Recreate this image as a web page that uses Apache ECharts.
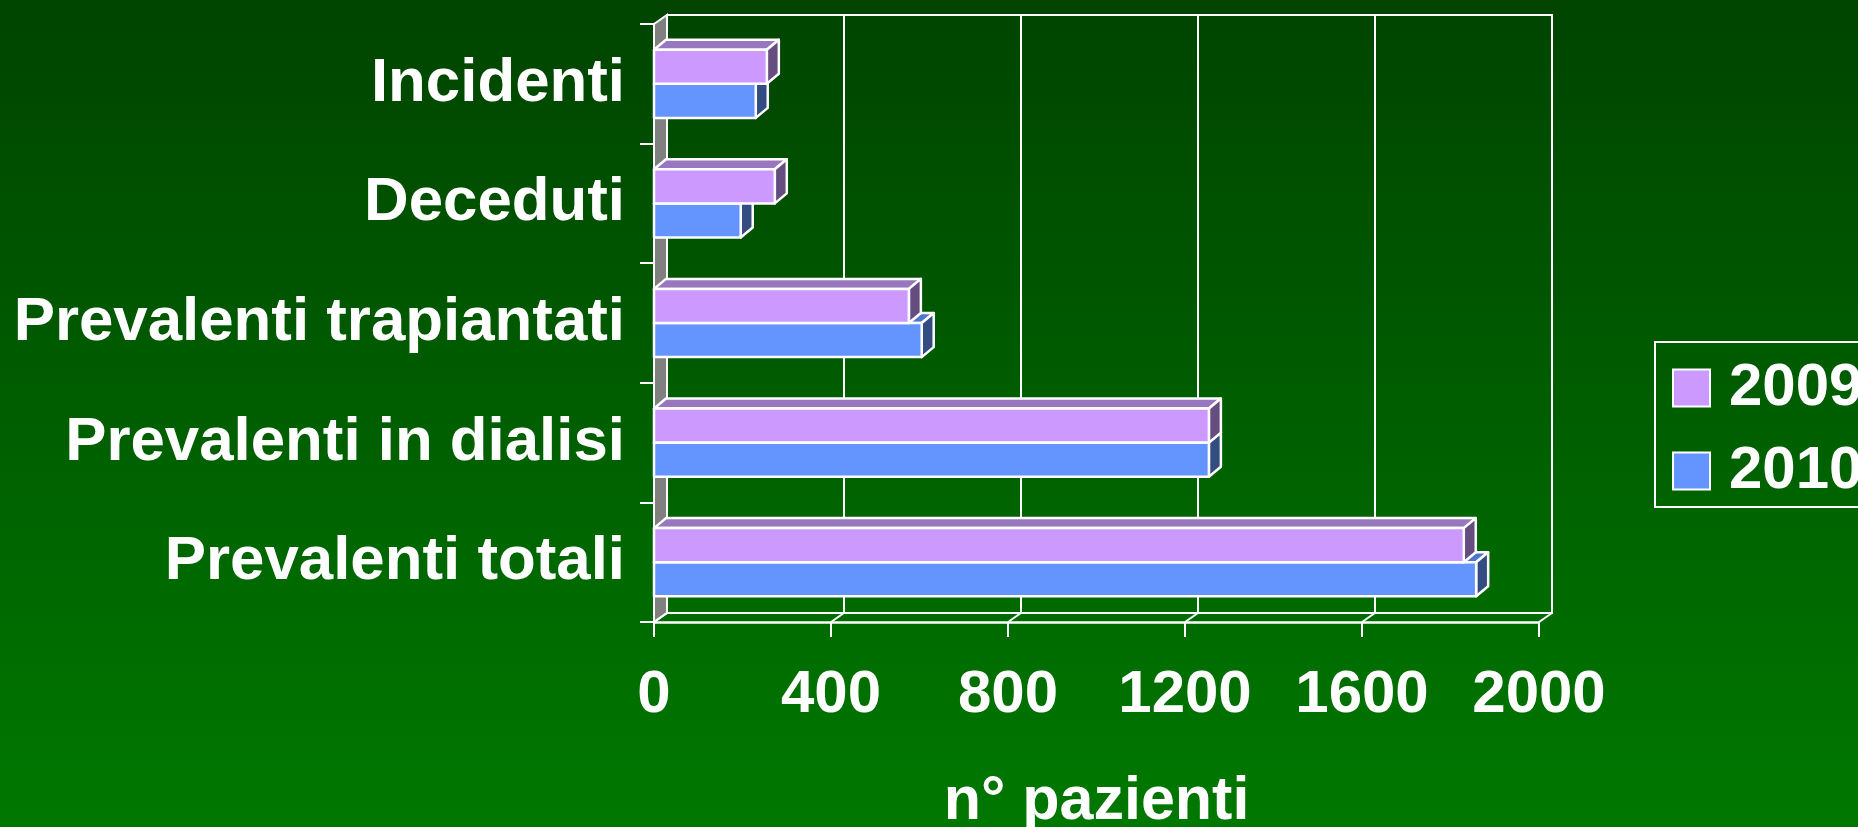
<!DOCTYPE html>
<html lang="it">
<head>
    <meta charset="utf-8">
    <title>Pazienti 2009 - 2010</title>
    <script src="https://cdn.jsdelivr.net/npm/echarts@6/dist/echarts.min.js"></script>
    <style>
        html, body { margin: 0; padding: 0; }
        #chart { width: 1858px; height: 827px; }
    </style>
</head>
<body>
    <div id="chart"></div>
    <script>
        // dati
        const categories = ['Incidenti', 'Deceduti', 'Prevalenti trapiantati', 'Prevalenti in dialisi', 'Prevalenti totali'];
        const years = ['2009', '2010'];
        const values2009 = [255, 273, 576, 1254, 1830];
        const values2010 = [230, 196, 605, 1254, 1858];
        const xTicks = [0, 400, 800, 1200, 1600, 2000];

        // layout (pseudo 3D)
        const FRONT = { left: 654, top: 24, width: 885, height: 598 };
        const WALL = { x: 13, y: 9 };
        const BAR = { x: 12, y: 10, ratio: 0.285 };
        const FONT = '"Liberation Sans", Arial, sans-serif';

        const colors = {
            '2009': { front: '#CC99FF', top: '#9977BF', side: '#664D80' },
            '2010': { front: '#6495FF', top: '#4D77CC', side: '#334D80' }
        };

        function barRenderer(c, upper) {
            return function (params, api) {
                const cat = api.value(1);
                const start = api.coord([0, cat]);
                const end = api.coord([api.value(0), cat]);
                const th = api.size([0, 1])[1] * BAR.ratio;
                const y0 = upper ? start[1] - th : start[1];
                const x0 = start[0], x1 = end[0];
                const dx = BAR.x, dy = BAR.y;
                const line = { stroke: '#fff', lineWidth: 2.5, lineJoin: 'round' };
                return {
                    type: 'group',
                    children: [
                        { type: 'polygon', shape: { points: [[x0, y0], [x0 + dx, y0 - dy], [x1 + dx, y0 - dy], [x1, y0]] },
                          style: Object.assign({ fill: c.top }, line) },
                        { type: 'polygon', shape: { points: [[x1, y0], [x1 + dx, y0 - dy], [x1 + dx, y0 + th - dy], [x1, y0 + th]] },
                          style: Object.assign({ fill: c.side }, line) },
                        { type: 'rect', shape: { x: x0, y: y0, width: x1 - x0, height: th },
                          style: Object.assign({ fill: c.front }, line) }
                    ]
                };
            };
        }

        const chart = echarts.init(document.getElementById('chart'));
        const option = {
            backgroundColor: new echarts.graphic.LinearGradient(0, 0, 0, 1, [
                { offset: 0, color: '#004400' },
                { offset: 1, color: '#007800' }
            ]),
            animation: false,
            textStyle: { fontFamily: FONT },
            legend: {
                data: years,
                orient: 'vertical',
                left: 1655,
                top: 342,
                icon: 'rect',
                itemWidth: 37,
                itemHeight: 37,
                itemGap: 23,
                padding: [16, 200, 6, 17],
                borderColor: '#fff',
                borderWidth: 2,
                itemStyle: { borderColor: '#fff', borderWidth: 2 },
                textStyle: { color: '#fff', fontSize: 60, fontWeight: 'bold', fontFamily: FONT, padding: [0, 0, 0, 14] }
            },
            grid: [
                // parete di fondo
                { left: FRONT.left + WALL.x, top: FRONT.top - WALL.y, width: FRONT.width, height: FRONT.height,
                  outerBoundsMode: 'none', containLabel: false,
                  show: true, borderColor: '#fff', borderWidth: 2, backgroundColor: 'transparent' },
                // piano frontale
                { left: FRONT.left, top: FRONT.top, width: FRONT.width, height: FRONT.height,
                  outerBoundsMode: 'none', containLabel: false }
            ],
            xAxis: [
                {
                    gridIndex: 0, type: 'value', min: 0, max: 2000, interval: 400,
                    axisLine: { show: false }, axisTick: { show: false }, axisLabel: { show: false },
                    splitLine: { show: true, lineStyle: { color: '#fff', width: 2 } }
                },
                {
                    gridIndex: 1, type: 'value', min: 0, max: 2000, interval: 400,
                    axisLine: { show: true, lineStyle: { color: '#fff', width: 2.5 } },
                    axisTick: { show: true, length: 15, lineStyle: { color: '#fff', width: 2 } },
                    axisLabel: { color: '#fff', fontSize: 60, fontWeight: 'bold', fontFamily: FONT, margin: 43,
                                 formatter: v => String(v) },
                    splitLine: { show: false },
                    name: 'n° pazienti',
                    nameLocation: 'middle',
                    nameGap: 150,
                    nameTextStyle: { color: '#fff', fontSize: 61, fontWeight: 'bold', fontFamily: FONT }
                }
            ],
            yAxis: [
                { gridIndex: 0, type: 'category', data: categories, inverse: true, show: false },
                {
                    gridIndex: 1, type: 'category', data: categories, inverse: true,
                    axisLine: { show: true, lineStyle: { color: '#fff', width: 2.5 } },
                    axisTick: { show: true, length: 14, lineStyle: { color: '#fff', width: 2 } },
                    axisLabel: { color: '#fff', fontSize: 61.8, fontWeight: 'bold', fontFamily: FONT, margin: 29,
                                 padding: [8, 0, 0, 0] },
                    splitLine: { show: false }
                }
            ],
            series: [
                {
                    name: '2009', type: 'custom', xAxisIndex: 1, yAxisIndex: 1, z: 4,
                    itemStyle: { color: colors['2009'].front },
                    encode: { x: 0, y: 1 },
                    renderItem: barRenderer(colors['2009'], true),
                    data: values2009.map((v, i) => [v, i])
                },
                {
                    name: '2010', type: 'custom', xAxisIndex: 1, yAxisIndex: 1, z: 3,
                    itemStyle: { color: colors['2010'].front },
                    encode: { x: 0, y: 1 },
                    renderItem: barRenderer(colors['2010'], false),
                    data: values2010.map((v, i) => [v, i])
                }
            ]
        };
        chart.setOption(option);

        // parete sinistra grigia e diagonali del pavimento
        const L = FRONT.left, T = FRONT.top, B = FRONT.top + FRONT.height;
        const deco = [{
            type: 'polygon', z: 1,
            shape: { points: [[L, T], [L + WALL.x, T - WALL.y], [L + WALL.x, B - WALL.y], [L, B]] },
            style: { fill: '#808080', stroke: '#fff', lineWidth: 2 }
        }];
        xTicks.forEach(v => {
            const fx = chart.convertToPixel({ xAxisIndex: 1 }, v);
            deco.push({
                type: 'line', z: 1,
                shape: { x1: fx, y1: B, x2: fx + WALL.x, y2: B - WALL.y },
                style: { stroke: '#fff', lineWidth: 2 }
            });
        });
        chart.setOption({ graphic: deco });
    </script>
</body>
</html>
